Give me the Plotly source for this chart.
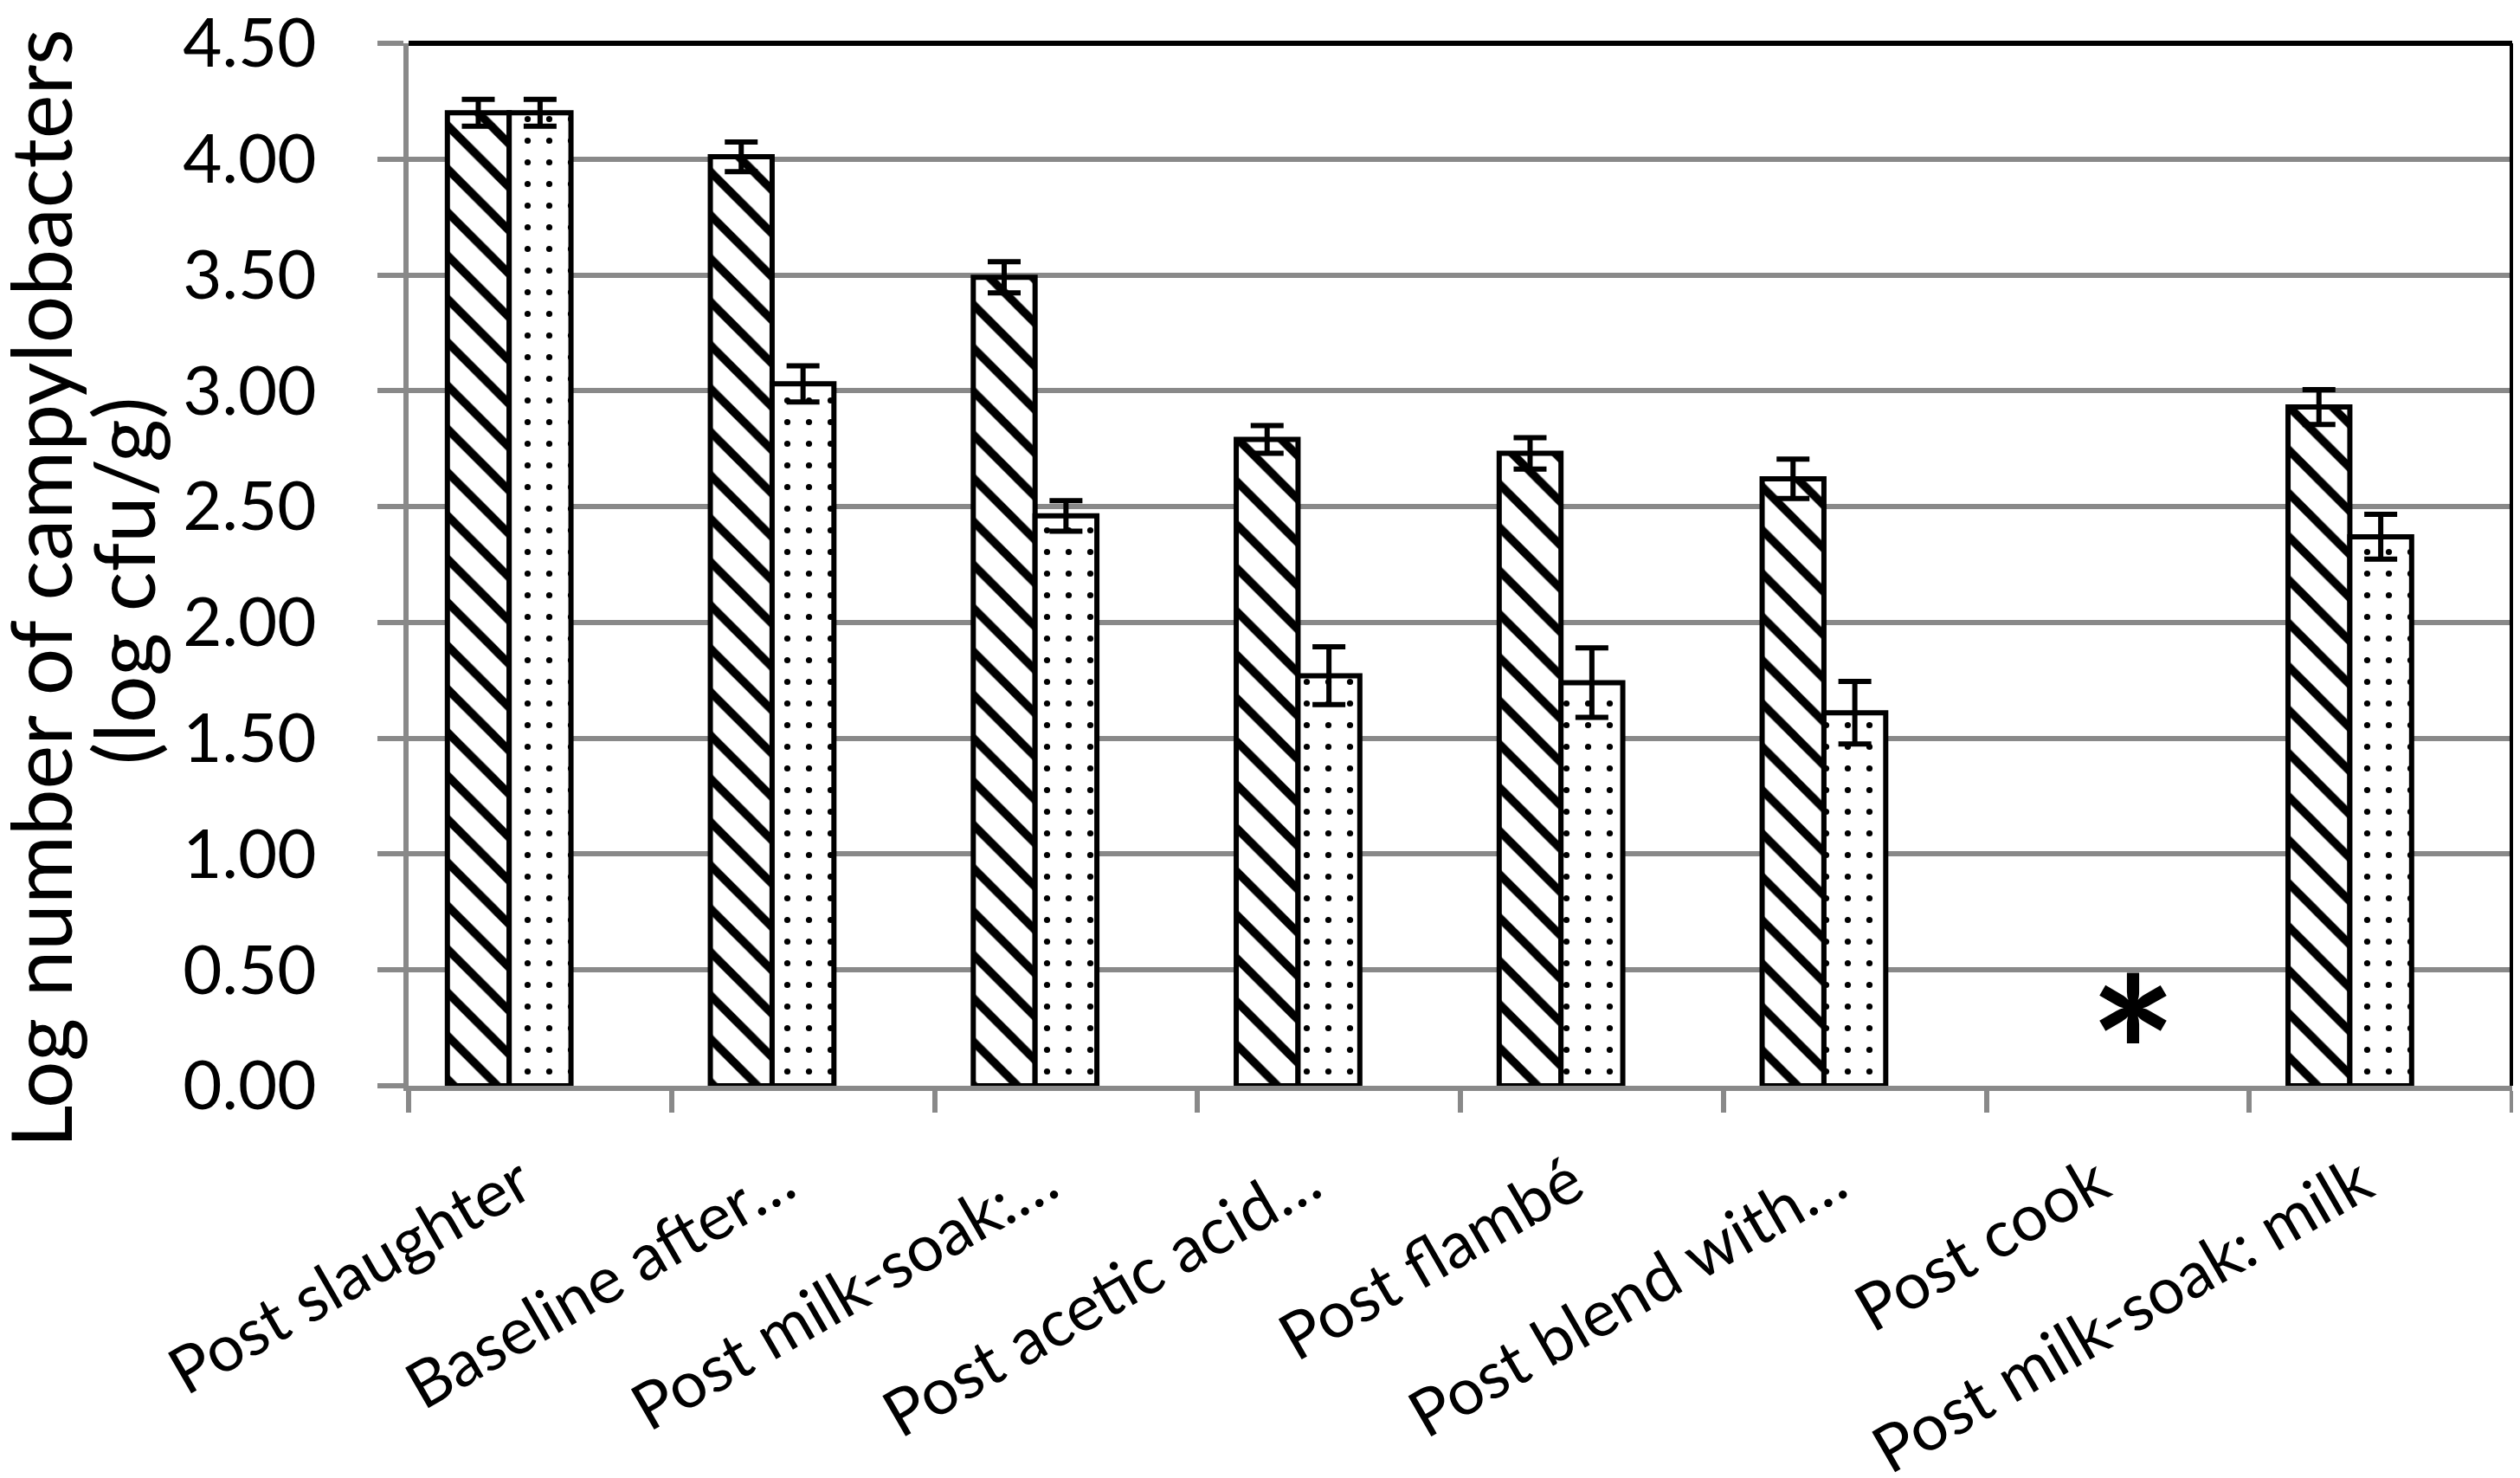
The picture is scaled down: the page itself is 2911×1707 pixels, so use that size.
import plotly.graph_objects as go

# ---- data ----
categories = [
    "Post slaughter",
    "Baseline after…",
    "Post milk-soak:…",
    "Post acetic acid…",
    "Post flambé",
    "Post blend with…",
    "Post cook",
    "Post milk-soak: milk",
]
hatched_values = [4.20, 4.01, 3.49, 2.79, 2.73, 2.62, None, 2.93]
hatched_errors = [0.058, 0.064, 0.067, 0.060, 0.068, 0.085, None, 0.075]
dotted_values = [4.20, 3.03, 2.46, 1.77, 1.74, 1.61, None, 2.37]
dotted_errors = [0.058, 0.078, 0.066, 0.125, 0.150, 0.135, None, 0.097]
y_tick_values = [0.0, 0.5, 1.0, 1.5, 2.0, 2.5, 3.0, 3.5, 4.0, 4.5]
y_tick_labels = ["0.00", "0.50", "1.00", "1.50", "2.00", "2.50", "3.00", "3.50", "4.00", "4.50"]
y_title_line1 = "Log number of campylobacters"
y_title_line2 = "(log cfu/g)"
asterisk_category = "Post cook"
asterisk_value = 0.28

GRAY = "#898989"
FONT = "Lato"

fig = go.Figure()

fig.add_trace(go.Bar(
    x=categories, y=hatched_values,
    width=0.235, offset=-0.3525,
    marker=dict(
        color="white",
        line=dict(color="black", width=6),
        pattern=dict(shape="\\", fgcolor="black", bgcolor="white",
                     fgopacity=1, size=35.4, solidity=0.27),
    ),
    error_y=dict(type="data", array=hatched_errors, visible=True,
                 color="black", thickness=6, width=19),
    showlegend=False,
))

fig.add_trace(go.Bar(
    x=categories, y=dotted_values,
    width=0.235, offset=-0.1175,
    marker=dict(
        color="white",
        line=dict(color="black", width=6),
        pattern=dict(shape=".", fgcolor="black", bgcolor="white",
                     fgopacity=1, size=25, solidity=0.065),
    ),
    error_y=dict(type="data", array=dotted_errors, visible=True,
                 color="black", thickness=6, width=19),
    showlegend=False,
))

fig.update_layout(
    template="none",
    width=2911, height=1707,
    margin=dict(l=464, r=17, t=42, b=461, pad=0),
    paper_bgcolor="white", plot_bgcolor="white",
    font=dict(family=FONT, size=80, color="black"),
    barmode="overlay",
    showlegend=False,
    xaxis=dict(
        type="category",
        categoryorder="array", categoryarray=categories,
        range=[-0.5, len(categories) - 0.5],
        automargin=False,
        tickson="boundaries",
        ticks="outside", ticklen=25, tickwidth=6, tickcolor=GRAY,
        showline=True, linecolor=GRAY, linewidth=6,
        showgrid=False, zeroline=False,
        tickangle=-30,
        ticklabelstandoff=34, ticklabelshift=-23,
        tickfont=dict(family=FONT, size=75, color="black"),
    ),
    yaxis=dict(
        range=[0, 4.5],
        automargin=False,
        tickmode="array", tickvals=y_tick_values, ticktext=y_tick_labels,
        ticks="outside", ticklen=30, tickwidth=6, tickcolor=GRAY,
        showline=True, linecolor=GRAY, linewidth=6,
        showgrid=True, gridcolor=GRAY, gridwidth=6,
        zeroline=False,
        ticklabeloverflow="allow",
        ticklabelstandoff=55,
        tickfont=dict(family=FONT, size=78, color="black"),
    ),
    shapes=[
        dict(type="line", xref="paper", yref="paper", x0=0, x1=1, y0=1, y1=1,
             line=dict(color="black", width=6)),
        dict(type="line", xref="paper", yref="paper", x0=1, x1=1, y0=0, y1=1,
             line=dict(color="black", width=6)),
    ],
    annotations=[
        dict(text=y_title_line1, xref="paper", yref="paper", x=0, y=0.477,
             xshift=-426, xanchor="center", yanchor="middle", textangle=-90,
             showarrow=False, font=dict(family=FONT, size=96, color="black")),
        dict(text=y_title_line2, xref="paper", yref="paper", x=0, y=0.484,
             xshift=-331, xanchor="center", yanchor="middle", textangle=-90,
             showarrow=False, font=dict(family=FONT, size=96, color="black")),
        dict(text="*", xref="x", yref="y", x=asterisk_category, y=asterisk_value,
             xshift=18, yshift=-33, xanchor="center", yanchor="middle", showarrow=False,
             font=dict(family=FONT, size=240, color="black", weight="bold")),
    ],
)

fig.write_html("out.html")
